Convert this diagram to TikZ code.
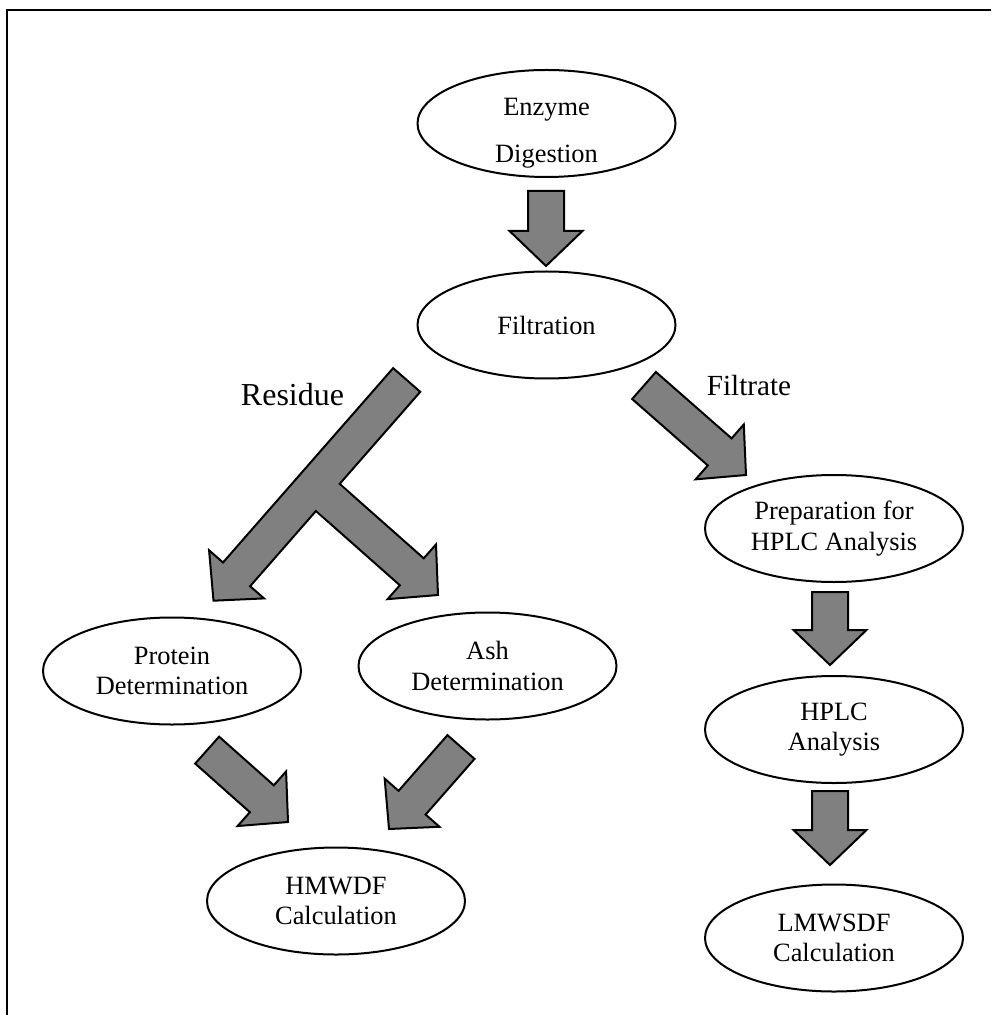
\documentclass[tikz,border=0pt]{standalone}
\usepackage{fontspec}
\setmainfont{Liberation Serif}
\usetikzlibrary{shapes.geometric,calc}
\definecolor{arrowgray}{RGB}{128,128,128}
\newcommand{\baMeasure}[2]{%
  \pgfpointdiff{\pgfpointanchor{#1}{center}}{\pgfpointanchor{#2}{center}}%
  \pgfgetlastxy{\baDx}{\baDy}%
  \pgfmathsetmacro{\baAng}{atan2(\baDy,\baDx)}%
  \pgfmathsetmacro{\baLen}{veclen(\baDx,\baDy)}}
\newcommand{\blockarrow}[2]{%
  \baMeasure{#1}{#2}%
  \begin{scope}[shift={(#2)}, rotate=\baAng]
    \draw[barrow] (0pt,0pt) -- (-17.5pt,18.25pt) -- (-17.5pt,9pt) -- (-\baLen pt,9pt)
      -- (-\baLen pt,-9pt) -- (-17.5pt,-9pt) -- (-17.5pt,-18.25pt) -- cycle;
  \end{scope}}
% hides the edge of the main arrow where a branch arrow joins it
\newcommand{\junctionpatch}[2]{%
  \baMeasure{#1}{#2}%
  \begin{scope}[shift={(#2)}, rotate=\baAng]
    \fill[arrowgray] (-\baLen pt+3pt,8.45pt) rectangle (-\baLen pt+16pt,-8.45pt);
  \end{scope}}
\tikzset{
  stage/.style={ellipse, draw, line width=1pt, minimum width=129pt, minimum height=53.5pt,
    inner sep=0pt, align=center, font=\fontsize{13.2pt}{15.3pt}\selectfont},
  barrow/.style={draw=black, fill=arrowgray, line width=1pt, line join=miter},
  residuelabel/.style={font=\fontsize{16pt}{19pt}\selectfont, anchor=base, inner sep=0pt},
  filtratelabel/.style={font=\fontsize{14.6pt}{17pt}\selectfont, anchor=base, inner sep=0pt},
  frameline/.style={line width=1.2pt}
}
\begin{document}
\begin{tikzpicture}[x=0.5pt, y=-0.5pt]
\useasboundingbox (0,0) rectangle (991,1015);
% frame (top and left edges)
\coordinate (fbl) at (7,1015);
\coordinate (ftl) at (7,10);
\coordinate (ftr) at (991,10);
\draw[frameline] (fbl) -- (ftl) -- (ftr);

% stages
\node[stage, inner ysep=-4pt] (enz) at (546.5,123.5) {\rule{0pt}{17.9pt}Enzyme\\[8.2pt]Digestion};
\node[stage] (fil)  at (546.5,325)   {Filtration};
\node[stage] (prep) at (834,528.5)   {Preparation for\\HPLC Analysis};
\node[stage] (hplc) at (834,729.5)   {HPLC\\Analysis};
\node[stage] (lmw)  at (834,938)     {LMWSDF\\Calculation};
\node[stage] (prot) at (172,671)     {Protein\\Determination};
\node[stage] (ash)  at (487.5,666)   {Ash\\Determination};
\node[stage] (hmw)  at (336,901)     {HMWDF\\Calculation};

% labels
\node[residuelabel] (resl) at (292.5,405) {Residue};
\node[filtratelabel] (fill) at (749,395) {Filtrate};

% arrow end points
\coordinate (a1s) at (546,191);   \coordinate (a1e) at (546,266);
\coordinate (a2s) at (406.7,380); \coordinate (a2e) at (213.5,600.7);
\coordinate (a3s) at (314.4,485.6); \coordinate (a3e) at (438,595);
\coordinate (a4s) at (644,385.5); \coordinate (a4e) at (746,475);
\coordinate (a5s) at (830,592);   \coordinate (a5e) at (830,665);
\coordinate (a6s) at (830,791);   \coordinate (a6e) at (830,865);
\coordinate (a7s) at (207,750);   \coordinate (a7e) at (288,822);
\coordinate (a8s) at (461,747);   \coordinate (a8e) at (389,829);

% block arrows
\blockarrow{a1s}{a1e}
\blockarrow{a3s}{a3e}
\blockarrow{a2s}{a2e}
\junctionpatch{a3s}{a3e}
\blockarrow{a4s}{a4e}
\blockarrow{a5s}{a5e}
\blockarrow{a6s}{a6e}
\blockarrow{a7s}{a7e}
\blockarrow{a8s}{a8e}
\end{tikzpicture}
\end{document}
